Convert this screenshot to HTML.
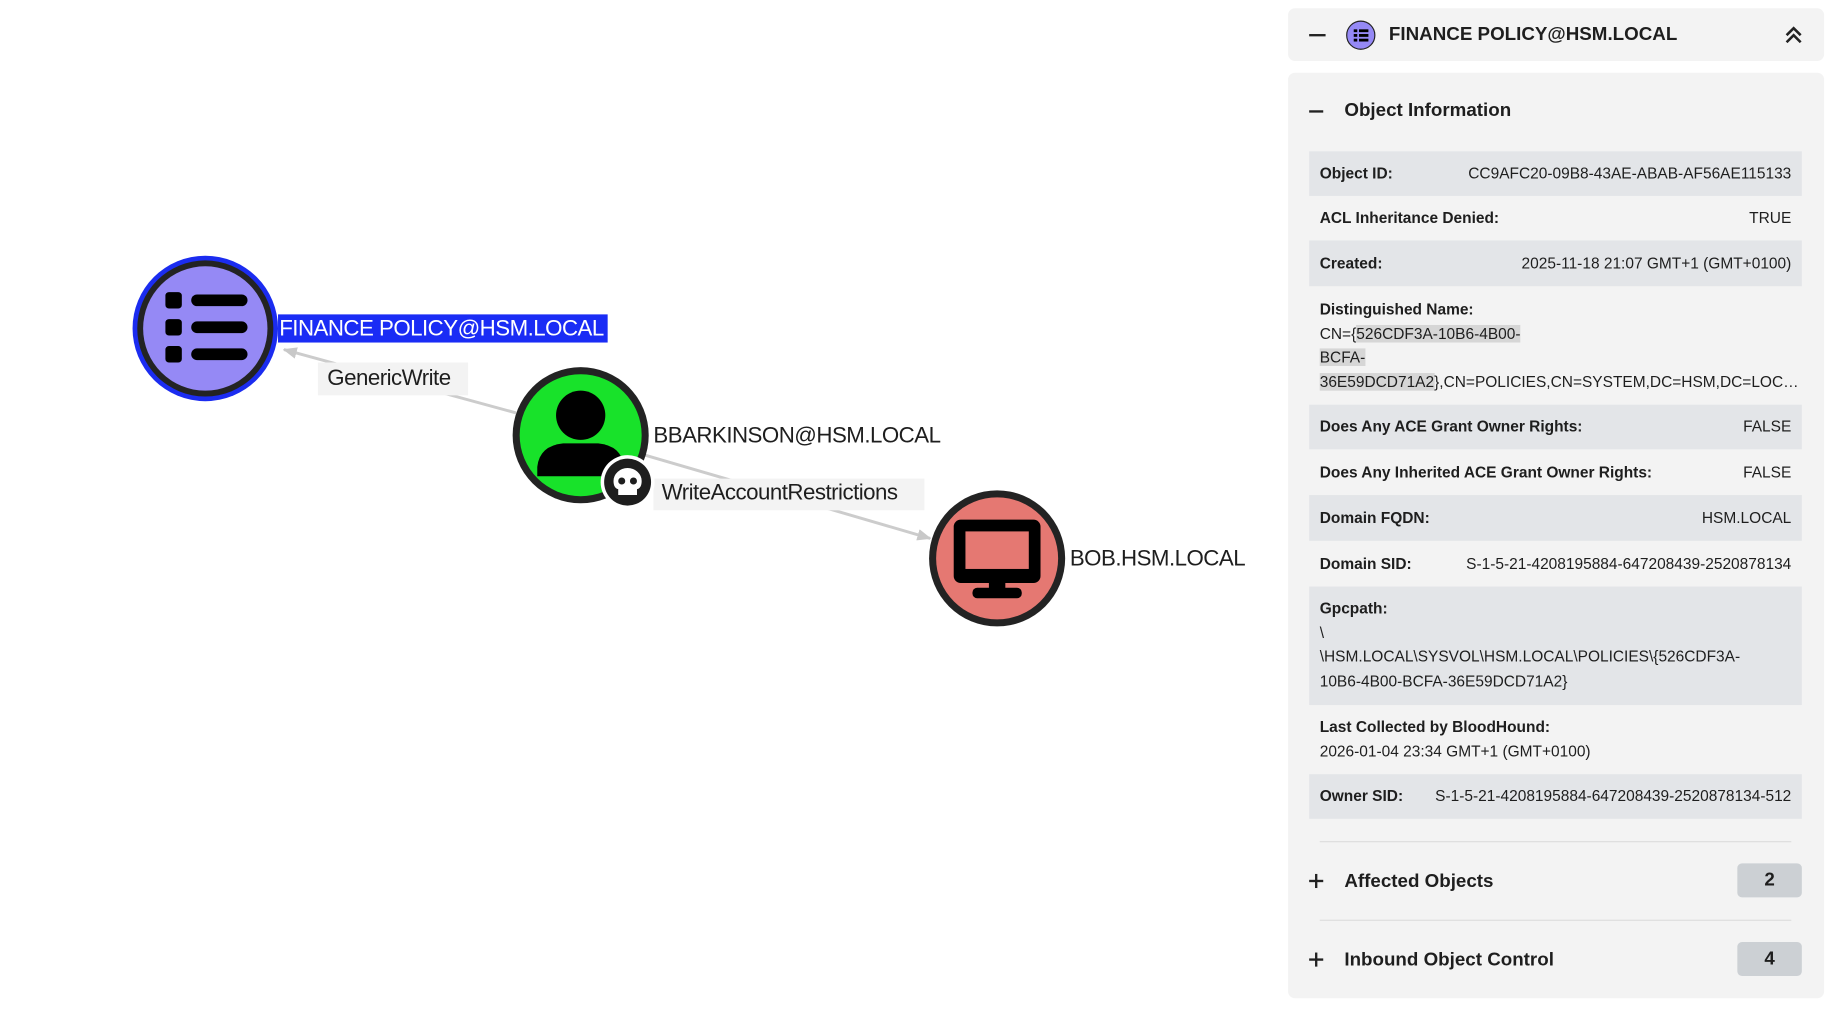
<!DOCTYPE html>
<html><head><meta charset="utf-8"><style>
html,body{margin:0;padding:0;background:#fff;overflow:hidden}
body{width:1830px;height:1010px;position:relative}
#w{position:absolute;left:0;top:0;width:1560px;height:861px;transform:scale(1.17308);transform-origin:0 0;font-family:"Liberation Sans",sans-serif;color:#1e1e1e}
.lbl{position:absolute;font-size:19px;white-space:nowrap;line-height:1;letter-spacing:-0.45px}
.box{position:absolute;background:#f3f3f3}
.pan{position:absolute;background:#f3f3f3;border-radius:6px}
.row{position:absolute;left:1116px;width:420px;font-size:13.2px;box-sizing:border-box;padding:0 9px;white-space:nowrap}
.row.s{background:#e3e5e8}
.row b{font-weight:bold}
.v{position:absolute;right:9px}
.badge{position:absolute;left:1481px;width:55px;height:29px;background:#ccd0d4;border-radius:4px;font-weight:bold;font-size:16px;text-align:center;line-height:29px}
.hd{position:absolute;font-weight:bold;font-size:16px}
.hl{background:#d6d6d6}
</style></head><body><div id="w">
<svg width="1100" height="861" style="position:absolute;left:0;top:0">
<defs><marker id="a" markerWidth="12" markerHeight="10" refX="11" refY="5" orient="auto" markerUnits="userSpaceOnUse"><path d="M0,0 L12,5 L0,10 Z" fill="#c8c8c8"/></marker></defs>
<line x1="440" y1="352" x2="242" y2="298" stroke="#cccccc" stroke-width="2.5" marker-end="url(#a)"/>
<line x1="550" y1="388" x2="793" y2="459" stroke="#cccccc" stroke-width="2.5" marker-end="url(#a)"/>
</svg>
<div class="box" style="left:271px;top:309px;width:128px;height:28px"></div>
<div class="lbl" style="left:279px;top:313px">GenericWrite</div>
<div class="box" style="left:557px;top:408px;width:231px;height:27px"></div>
<div class="lbl" style="left:564px;top:411px">WriteAccountRestrictions</div>
<svg width="1100" height="861" style="position:absolute;left:0;top:0">
<circle cx="175" cy="280" r="62" fill="#1b2cf0"/>
<circle cx="175" cy="280" r="58" fill="#232323"/>
<circle cx="175" cy="280" r="53" fill="#9589f5"/>
<rect x="141" y="249" width="14" height="14" rx="3"/><rect x="163" y="251" width="48" height="10" rx="5"/>
<rect x="141" y="272" width="14" height="14" rx="3"/><rect x="163" y="274" width="48" height="10" rx="5"/>
<rect x="141" y="295" width="14" height="14" rx="3"/><rect x="163" y="297" width="48" height="10" rx="5"/>
<circle cx="495" cy="371" r="58" fill="#232323"/>
<circle cx="495" cy="371" r="52" fill="#18e22a"/>
<circle cx="495" cy="354" r="21" fill="#000"/>
<path d="M458,406 L458,398 Q460,380 480,378 L510,378 Q530,380 532,398 L532,406 Z" fill="#000"/>
<circle cx="535" cy="411" r="23" fill="#fff"/>
<circle cx="535" cy="411" r="20" fill="#1e1e1e"/>
<path d="M523,410 a12,11 0 1 1 24,0 q0,6 -4,7 v5 h-16 v-5 q-4,-1 -4,-7z" fill="#fff"/>
<circle cx="530" cy="410" r="3" fill="#1e1e1e"/><circle cx="540" cy="410" r="3" fill="#1e1e1e"/>
<circle cx="850" cy="476" r="58" fill="#232323"/>
<circle cx="850" cy="476" r="52" fill="#e57872"/>
<rect x="813" y="443" width="74" height="54" rx="6" fill="#000"/>
<rect x="823" y="453" width="54" height="32" fill="#e57872"/>
<rect x="843" y="496" width="14" height="8" fill="#000"/>
<rect x="829" y="501" width="42" height="9" rx="4" fill="#000"/>
</svg>
<div style="position:absolute;left:237px;top:268px;width:281px;height:24px;background:#1a2cf5"></div>
<div class="lbl" style="left:238px;top:271px;color:#fff">FINANCE POLICY@HSM.LOCAL</div>
<div class="lbl" style="left:557px;top:362px">BBARKINSON@HSM.LOCAL</div>
<div class="lbl" style="left:912px;top:467px">BOB.HSM.LOCAL</div>

<div class="pan" style="left:1098px;top:7px;width:457px;height:45px"></div>
<div style="position:absolute;left:1116px;top:29px;width:14px;height:2px;background:#222"></div>
<svg style="position:absolute;left:1147px;top:17px" width="26" height="26"><circle cx="13" cy="13" r="12" fill="#9589f5" stroke="#222" stroke-width="1"/><rect x="7" y="8" width="3" height="2.4"/><rect x="11.5" y="8" width="8" height="2.4"/><rect x="7" y="12" width="3" height="2.4"/><rect x="11.5" y="12" width="8" height="2.4"/><rect x="7" y="16" width="3" height="2.4"/><rect x="11.5" y="16" width="8" height="2.4"/></svg>
<div class="hd" style="left:1184px;top:21px">FINANCE POLICY@HSM.LOCAL</div>
<svg style="position:absolute;left:1521px;top:22px" width="16" height="16"><path d="M2,8 L8,2 L14,8 M2,14 L8,8 L14,14" fill="none" stroke="#222" stroke-width="2.2"/></svg>

<div class="pan" style="left:1098px;top:62px;width:457px;height:789px"></div>
<div style="position:absolute;left:1116px;top:94px;width:12px;height:2px;background:#222"></div>
<div class="hd" style="left:1146px;top:86px">Object Information</div>

<div class="row s" style="top:129px;height:38px;line-height:38px"><b>Object ID:</b><span class="v">CC9AFC20-09B8-43AE-ABAB-AF56AE115133</span></div>
<div class="row" style="top:167px;height:38px;line-height:38px"><b>ACL Inheritance Denied:</b><span class="v">TRUE</span></div>
<div class="row s" style="top:205px;height:39px;line-height:39px"><b>Created:</b><span class="v">2025-11-18 21:07 GMT+1 (GMT+0100)</span></div>
<div class="row" style="top:244px;height:101px;padding-top:10px;line-height:20.5px"><b>Distinguished Name:</b><br>CN={<span class="hl">526CDF3A-10B6-4B00-</span><br><span class="hl">BCFA-</span><br><span class="hl">36E59DCD71A2</span>},CN=POLICIES,CN=SYSTEM,DC=HSM,DC=LOC…</div>
<div class="row s" style="top:345px;height:38px;line-height:38px"><b>Does Any ACE Grant Owner Rights:</b><span class="v">FALSE</span></div>
<div class="row" style="top:383px;height:39px;line-height:39px"><b>Does Any Inherited ACE Grant Owner Rights:</b><span class="v">FALSE</span></div>
<div class="row s" style="top:422px;height:39px;line-height:39px"><b>Domain FQDN:</b><span class="v">HSM.LOCAL</span></div>
<div class="row" style="top:461px;height:39px;line-height:39px"><b>Domain SID:</b><span class="v">S-1-5-21-4208195884-647208439-2520878134</span></div>
<div class="row s" style="top:500px;height:101px;padding-top:9px;line-height:20.5px"><b>Gpcpath:</b><br>\<br>\HSM.LOCAL\SYSVOL\HSM.LOCAL\POLICIES\{526CDF3A-<br>10B6-4B00-BCFA-36E59DCD71A2}</div>
<div class="row" style="top:601px;height:59px;padding-top:9px;line-height:20.5px"><b>Last Collected by BloodHound:</b><br>2026-01-04 23:34 GMT+1 (GMT+0100)</div>
<div class="row s" style="top:660px;height:38px;line-height:38px"><b>Owner SID:</b><span class="v">S-1-5-21-4208195884-647208439-2520878134-512</span></div>

<div style="position:absolute;left:1125px;top:717px;width:402px;height:1px;background:#ddd"></div>
<div style="position:absolute;left:1116px;top:750px;width:12px;height:2px;background:#222"></div>
<div style="position:absolute;left:1121px;top:745px;width:2px;height:12px;background:#222"></div>
<div class="hd" style="left:1146px;top:743px">Affected Objects</div>
<div class="badge" style="top:736px">2</div>
<div style="position:absolute;left:1125px;top:784px;width:402px;height:1px;background:#ddd"></div>
<div style="position:absolute;left:1116px;top:817px;width:12px;height:2px;background:#222"></div>
<div style="position:absolute;left:1121px;top:812px;width:2px;height:12px;background:#222"></div>
<div class="hd" style="left:1146px;top:810px">Inbound Object Control</div>
<div class="badge" style="top:803px">4</div>
</div></body></html>
